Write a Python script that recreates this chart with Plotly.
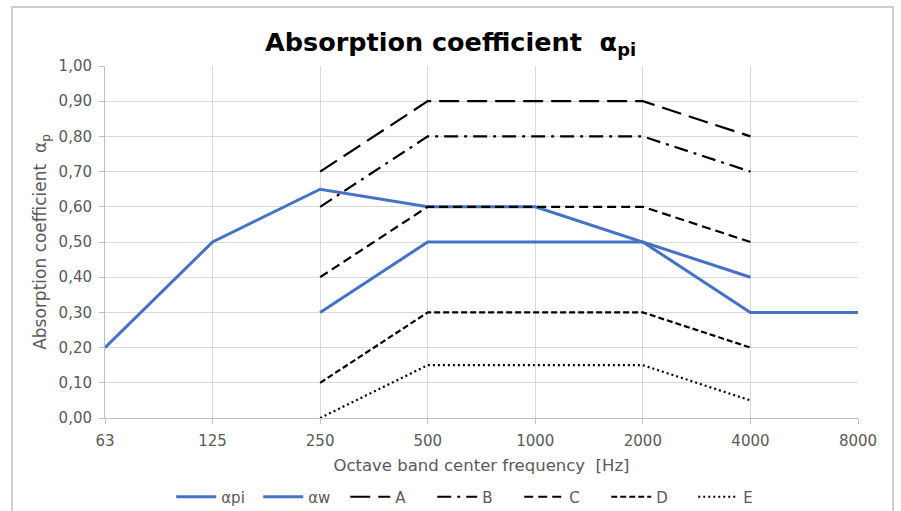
import plotly.graph_objects as go

freq_labels = ["63", "125", "250", "500", "1000", "2000", "4000", "8000"]
y_ticks = [0.0, 0.1, 0.2, 0.3, 0.4, 0.5, 0.6, 0.7, 0.8, 0.9, 1.0]

alpha_pi_freqs = ["63", "125", "250", "500", "1000", "2000", "4000", "8000"]
alpha_pi = [0.20, 0.50, 0.65, 0.60, 0.60, 0.50, 0.30, 0.30]

class_freqs = ["250", "500", "1000", "2000", "4000"]
alpha_w = [0.30, 0.50, 0.50, 0.50, 0.40]
class_A = [0.70, 0.90, 0.90, 0.90, 0.80]
class_B = [0.60, 0.80, 0.80, 0.80, 0.70]
class_C = [0.40, 0.60, 0.60, 0.60, 0.50]
class_D = [0.10, 0.30, 0.30, 0.30, 0.20]
class_E = [0.00, 0.15, 0.15, 0.15, 0.05]

def xi(labels):
    return [freq_labels.index(l) for l in labels]

BLUE = "#4472C4"
FONT = "'DejaVu Sans', sans-serif"

fig = go.Figure()
fig.add_trace(go.Scatter(x=xi(alpha_pi_freqs), y=alpha_pi, mode="lines", name="αpi",
                         line=dict(color=BLUE, width=3)))
fig.add_trace(go.Scatter(x=xi(class_freqs), y=alpha_w, mode="lines", name="αw",
                         line=dict(color=BLUE, width=3)))
styles = [("A", class_A, "20px,8px"), ("B", class_B, "14px,6px,3px,6px"),
          ("C", class_C, "9px,5px"), ("D", class_D, "6px,3px"), ("E", class_E, "2px,3px")]
for name, vals, dash in styles:
    fig.add_trace(go.Scatter(x=xi(class_freqs), y=vals, mode="lines", name=name,
                             line=dict(color="black", width=2.2, dash=dash)))

L, R, T, B = 105, 43, 66, 93
W, H = 901, 511
pw, ph = W - L - R, H - T - B

fig.update_layout(
    width=W, height=H,
    margin=dict(l=L, r=R, t=T, b=B, autoexpand=False),
    paper_bgcolor="white", plot_bgcolor="white",
    separators=",.",
    font=dict(family=FONT, color="#595959", size=15),
    title=dict(text="<b>Absorption coefficient  α<sub>pi</sub></b>", x=0.5, xref="container",
               xanchor="center", y=1 - 42 / H, yref="container", yanchor="middle",
               font=dict(size=25.5, color="black", family=FONT)),
    xaxis=dict(range=[0, 7], tickvals=list(range(len(freq_labels))), ticktext=freq_labels,
               showgrid=True, gridcolor="#d9d9d9", gridwidth=1,
               showline=True, linecolor="#bfbfbf", linewidth=1,
               ticks="outside", ticklen=5, tickcolor="#bfbfbf", ticklabelstandoff=4,
               title=dict(text="Octave band center frequency  [Hz]", font=dict(size=16.5, color="#595959"),
                          standoff=10),
               zeroline=False, fixedrange=True),
    yaxis=dict(range=[0, 1.0], tickvals=y_ticks, tickformat=".2f",
               showgrid=True, gridcolor="#d9d9d9", gridwidth=1,
               showline=True, linecolor="#bfbfbf", linewidth=1,
               ticks="outside", ticklen=5, tickcolor="#bfbfbf", ticklabelstandoff=4,
               title=dict(text="Absorption coefficient  α<sub>p</sub>", font=dict(size=17, color="#595959"),
                          standoff=7),
               zeroline=False, fixedrange=True),
    legend=dict(orientation="h", x=0.528, xanchor="center", xref="container",
                y=1 - 497 / H, yanchor="middle", yref="container",
                font=dict(size=15, color="#595959"), itemwidth=40, traceorder="normal",
                entrywidth=32, entrywidthmode="pixels",
                bgcolor="rgba(0,0,0,0)"),
    showlegend=True,
)

# chart outer border
fig.add_shape(type="rect", xref="paper", yref="paper",
              x0=(12 - L) / pw, x1=(893 - L) / pw,
              y0=-(H + 10 - (T + ph)) / ph, y1=(T + ph - 7) / ph,
              line=dict(color="#bfbfbf", width=1.5), fillcolor="rgba(0,0,0,0)", layer="below")

fig.write_html("out.html", config={"displayModeBar": False},
               post_script="document.body.style.margin='0';")
